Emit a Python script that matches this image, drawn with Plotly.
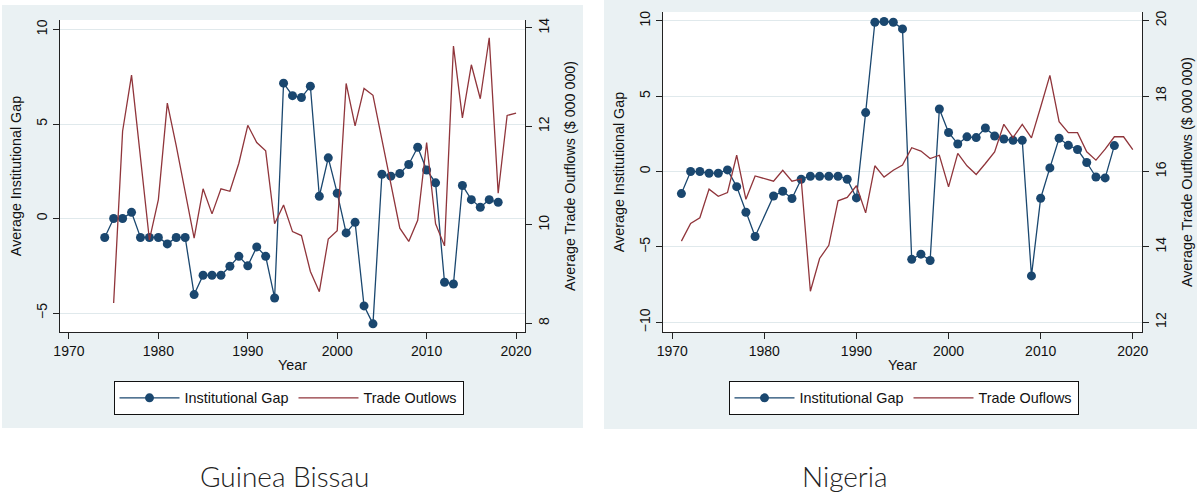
import plotly.graph_objects as go

# ---------------- data ----------------
gb_gap_years = list(range(1974, 2019))
gb_gap = [-1.0, 0.0, 0.0, 0.33, -1.0, -1.0, -1.0, -1.34, -1.0, -1.0,
          -4.02, -3.0, -3.0, -3.0, -2.52, -2.0, -2.5, -1.5, -2.0, -4.2,
          7.16, 6.5, 6.4, 7.0, 1.18, 3.21, 1.34, -0.76, -0.2, -4.62,
          -5.57, 2.34, 2.24, 2.38, 2.86, 3.77, 2.57, 1.89, -3.37, -3.46,
          1.75, 1.0, 0.6, 1.0, 0.86]
gb_trade_years = list(range(1975, 2021))
gb_trade = [8.41, 11.9, 13.04, 11.37, 9.69, 10.51, 12.47, 11.6, 10.65, 9.73,
            10.73, 10.22, 10.73, 10.68, 11.25, 12.02, 11.67, 11.5, 10.02, 10.4,
            9.86, 9.78, 9.05, 8.64, 9.71, 9.88, 12.87, 12.01, 12.77, 12.63,
            11.73, 10.83, 9.93, 9.66, 10.09, 11.67, 10.02, 9.57, 13.63, 12.17,
            13.25, 12.56, 13.8, 10.64, 12.22, 12.27]

ng_gap_years = [1971, 1972, 1973, 1974, 1975, 1976, 1977, 1978, 1979,
                1981, 1982, 1983, 1984, 1985, 1986, 1987, 1988, 1989, 1990,
                1991, 1992, 1993, 1994, 1995, 1996, 1997, 1998, 1999, 2000,
                2001, 2002, 2003, 2004, 2005, 2006, 2007, 2008, 2009, 2010,
                2011, 2012, 2013, 2014, 2015, 2016, 2017, 2018]
ng_gap = [-1.46, 0.0, 0.0, -0.11, -0.11, 0.11, -1.0, -2.7, -4.31,
          -1.62, -1.31, -1.79, -0.51, -0.31, -0.31, -0.31, -0.31, -0.51, -1.75,
          3.91, 9.9, 9.95, 9.9, 9.46, -5.82, -5.48, -5.9, 4.15, 2.59,
          1.83, 2.3, 2.25, 2.89, 2.36, 2.16, 2.07, 2.07, -6.92, -1.77,
          0.24, 2.21, 1.74, 1.46, 0.6, -0.36, -0.42, 1.72]
ng_trade_years = list(range(1971, 2021))
ng_trade = [14.15, 14.62, 14.77, 15.53, 15.34, 15.44, 16.43, 15.26, 15.88, 15.81,
            15.74, 16.03, 15.74, 15.8, 12.82, 13.69, 14.04, 15.22, 15.31, 15.62,
            14.9, 16.15, 15.85, 16.03, 16.17, 16.63, 16.54, 16.34, 16.43, 15.59,
            16.48, 16.15, 15.92, 16.21, 16.52, 17.25, 16.9, 17.25, 16.89, 17.71,
            18.55, 17.32, 17.03, 17.03, 16.52, 16.3, 16.59, 16.92, 16.92, 16.58]

x_ticks = [1970, 1980, 1990, 2000, 2010, 2020]
gb_left_ticks = [-5, 0, 5, 10]
gb_right_ticks = [8, 10, 12, 14]
ng_left_ticks = [-10, -5, 0, 5, 10]
ng_right_ticks = [12, 14, 16, 18, 20]

gap_name = "Institutional Gap"
gb_trade_name = "Trade Outlows"
ng_trade_name = "Trade Ouflows"
captions = ["Guinea Bissau", "Nigeria"]
y_left_title = "Average Institutional Gap"
y_right_title = "Average Trade Outflows ($ 000 000)"
x_title = "Year"

# ---------------- style ----------------
W, H = 1199, 495
BLUE = "#1a476f"
RED = "#90353b"
PANEL = "#eaf1f3"
GRID = "#e0e9ec"
FONT = "Liberation Sans"


def px_x(p):
    return p / W


def px_y(p):
    return 1 - p / H


fig = go.Figure()

fig.add_trace(go.Scatter(x=gb_gap_years, y=gb_gap, name=gap_name, mode="lines+markers",
                         line=dict(color=BLUE, width=1.3), marker=dict(color=BLUE, size=9),
                         xaxis="x", yaxis="y", legend="legend"))
fig.add_trace(go.Scatter(x=gb_trade_years, y=gb_trade, name=gb_trade_name, mode="lines",
                         line=dict(color=RED, width=1.3),
                         xaxis="x", yaxis="y2", legend="legend"))
fig.add_trace(go.Scatter(x=ng_gap_years, y=ng_gap, name=gap_name, mode="lines+markers",
                         line=dict(color=BLUE, width=1.3), marker=dict(color=BLUE, size=9),
                         xaxis="x2", yaxis="y3", legend="legend2"))
fig.add_trace(go.Scatter(x=ng_trade_years, y=ng_trade, name=ng_trade_name, mode="lines",
                         line=dict(color=RED, width=1.3),
                         xaxis="x2", yaxis="y4", legend="legend2"))

TITLE_FONT = dict(family=FONT, size=14.3, color="#111")
axis_common = dict(showline=True, linecolor="#222", linewidth=1, ticks="outside",
                   ticklen=6, tickcolor="#222",
                   tickfont=dict(family=FONT, size=14, color="#111"),
                   zeroline=False, automargin=False)

gb_dom_x = [px_x(60), px_x(525)]
gb_dom_y = [px_y(332), px_y(20)]
ng_dom_x = [px_x(663), px_x(1142)]
ng_dom_y = [px_y(332), px_y(12)]

legend_common = dict(orientation="h", xanchor="center", y=px_y(381), yanchor="top",
                     bgcolor="white", bordercolor="#111", borderwidth=1,
                     font=dict(size=14.4, family=FONT, color="#111"), itemwidth=60,
                     traceorder="normal")

fig.update_layout(
    width=W, height=H, margin=dict(l=0, r=0, t=0, b=0),
    paper_bgcolor="white", plot_bgcolor="white",
    font=dict(family=FONT, size=14, color="#111"),
    xaxis=dict(domain=gb_dom_x, anchor="y", range=[1969, 2021], tickvals=x_ticks,
               showgrid=False, title=dict(text=x_title, standoff=2, font=TITLE_FONT),
               **axis_common),
    yaxis=dict(domain=gb_dom_y, anchor="x", range=[-6, 10.5], tickvals=gb_left_ticks,
               tickangle=-90, showgrid=True, gridcolor=GRID, gridwidth=1,
               title=dict(text=y_left_title, standoff=9, font=TITLE_FONT), **axis_common),
    yaxis2=dict(overlaying="y", anchor="x", side="right", range=[7.82, 14.16],
                tickvals=gb_right_ticks, tickangle=-90, showgrid=False,
                title=dict(text=y_right_title, standoff=14, font=TITLE_FONT), **axis_common),
    xaxis2=dict(domain=ng_dom_x, anchor="y3", range=[1969, 2021], tickvals=x_ticks,
                showgrid=False, title=dict(text=x_title, standoff=2, font=TITLE_FONT),
                **axis_common),
    yaxis3=dict(domain=ng_dom_y, anchor="x2", range=[-10.64, 10.58], tickvals=ng_left_ticks,
                tickangle=-90, showgrid=True, gridcolor=GRID, gridwidth=1,
                title=dict(text=y_left_title, standoff=9, font=TITLE_FONT), **axis_common),
    yaxis4=dict(overlaying="y3", anchor="x2", side="right", range=[11.74, 20.23],
                tickvals=ng_right_ticks, tickangle=-90, showgrid=False,
                title=dict(text=y_right_title, standoff=14, font=TITLE_FONT), **axis_common),
    legend=dict(x=px_x(288.5), **legend_common),
    legend2=dict(x=px_x(903.5), **legend_common),
    showlegend=True,
)

# panel backgrounds
fig.add_shape(type="rect", xref="paper", yref="paper", x0=px_x(2), x1=px_x(583),
              y0=px_y(428), y1=px_y(5), fillcolor=PANEL, line=dict(width=0), layer="below")
fig.add_shape(type="rect", xref="paper", yref="paper", x0=px_x(604), x1=px_x(1197),
              y0=px_y(429), y1=px_y(0), fillcolor=PANEL, line=dict(width=0), layer="below")
# white plot regions
fig.add_shape(type="rect", xref="paper", yref="paper", x0=gb_dom_x[0], x1=gb_dom_x[1],
              y0=gb_dom_y[0], y1=gb_dom_y[1], fillcolor="white", line=dict(width=0), layer="below")
fig.add_shape(type="rect", xref="paper", yref="paper", x0=ng_dom_x[0], x1=ng_dom_x[1],
              y0=ng_dom_y[0], y1=ng_dom_y[1], fillcolor="white", line=dict(width=0), layer="below")

# captions
for cap, cx in zip(captions, [284, 845]):
    fig.add_annotation(text=cap, xref="paper", yref="paper", x=px_x(cx), y=px_y(476),
                       xanchor="center", yanchor="middle", showarrow=False,
                       font=dict(family="Lato", size=28, color="#222", weight=300))

fig.write_html("out.html",
               config={"displayModeBar": False},
               post_script="document.body.style.margin='0px';"
                           "document.body.style.overflow='hidden';")
